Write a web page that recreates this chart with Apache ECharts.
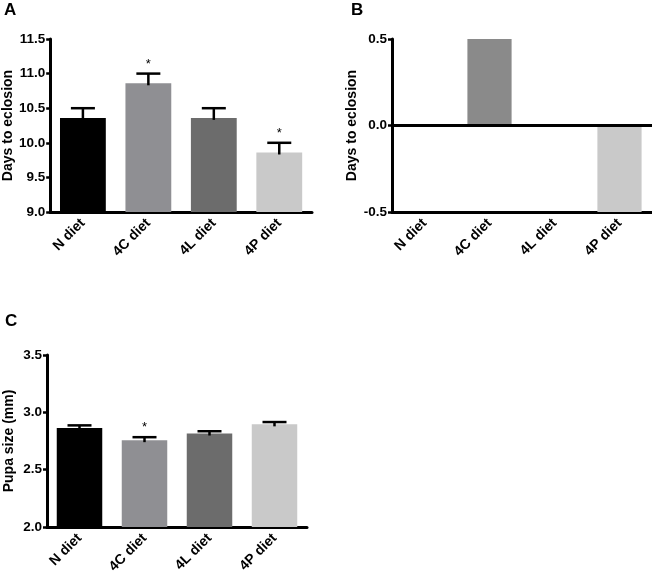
<!DOCTYPE html>
<html>
<head>
<meta charset="utf-8">
<script src="https://cdn.jsdelivr.net/npm/echarts@6/dist/echarts.min.js"></script>
<style>html,body{margin:0;padding:0;background:#fff;}#main{width:652px;height:576px;}</style>
</head>
<body>
<div id="main"></div>
<script>
const categories = ['N diet', '4C diet', '4L diet', '4P diet'];
const barColors = ['#000000', '#8f8f93', '#6c6c6c', '#c9c9c9'];
const colorsB = ['#000000', '#8a8a8a', '#6c6c6c', '#c9c9c9'];

// Panel A: days to eclosion
const meanA = [10.36, 10.86, 10.36, 9.86];
const upperA = [10.5, 11.0, 10.5, 10.0];
const starA = [0, 1, 0, 1];
const yTicksA = { min: 9.0, max: 11.5, interval: 0.5 };

// Panel B: difference in days to eclosion
const valuesB = [0, 0.5, 0, -0.5];
const yTicksB = { min: -0.5, max: 0.5, interval: 0.5 };

// Panel C: pupa size
const meanC = [2.864, 2.757, 2.815, 2.895];
const upperC = [2.886, 2.783, 2.835, 2.915];
const starC = [0, 1, 0, 0];
const yTicksC = { min: 2.0, max: 3.5, interval: 0.5 };

const FONT = '"Liberation Sans", Arial, sans-serif';

function xAxisCfg(gridIndex) {
  return {
    type: 'category', gridIndex, data: categories,
    axisLine: { onZero: false, lineStyle: { color: '#000', width: 3 } },
    axisTick: { alignWithLabel: true, length: 6, lineStyle: { color: '#000', width: 2.5 } },
    axisLabel: { rotate: 45, color: '#000', fontWeight: 'bold', fontSize: 14, fontFamily: FONT, margin: 9 }
  };
}
function yAxisCfg(gridIndex, t, name, nameGap) {
  return {
    type: 'value', gridIndex, min: t.min, max: t.max, interval: t.interval,
    name, nameLocation: 'middle', nameGap,
    nameTextStyle: { color: '#000', fontWeight: 'bold', fontSize: 14, fontFamily: FONT },
    splitLine: { show: false },
    axisLine: { show: true, lineStyle: { color: '#000', width: 3 } },
    axisTick: { show: true, length: 4, lineStyle: { color: '#000', width: 2.5 } },
    axisLabel: { color: '#000', fontWeight: 'bold', fontSize: 13.5, fontFamily: FONT, margin: 5,
      formatter: v => v.toFixed(1) }
  };
}
function errorSeries(idx, mean, upper, star) {
  return {
    type: 'custom', xAxisIndex: idx, yAxisIndex: idx, z: 5,
    data: mean.map((m, i) => [i, m, upper[i], star[i]]),
    renderItem: function (params, api) {
      const x = api.value(0);
      const lo = api.coord([x, api.value(1)]);
      const hi = api.coord([x, api.value(2)]);
      const hw = 12;
      const children = [
        { type: 'line', shape: { x1: lo[0], y1: lo[1] + 2, x2: hi[0], y2: hi[1] }, style: { stroke: '#000', lineWidth: 2.5 } },
        { type: 'line', shape: { x1: hi[0] - hw, y1: hi[1], x2: hi[0] + hw, y2: hi[1] }, style: { stroke: '#000', lineWidth: 2.5 } }
      ];
      if (api.value(3)) {
        children.push({ type: 'text', style: { text: '*', x: hi[0], y: hi[1] - 3, textAlign: 'center', textVerticalAlign: 'bottom', fill: '#000', font: '13px ' + FONT } });
      }
      return { type: 'group', children };
    }
  };
}

const chart = echarts.init(document.getElementById('main'));
chart.setOption({
  animation: false,
  backgroundColor: '#fff',
  graphic: [
    { type: 'text', left: 4, top: 2, style: { text: 'A', fill: '#000', font: 'bold 17px ' + FONT } },
    { type: 'text', left: 351, top: 2, style: { text: 'B', fill: '#000', font: 'bold 17px ' + FONT } },
    { type: 'text', left: 5, top: 313, style: { text: 'C', fill: '#000', font: 'bold 17px ' + FONT } }
  ],
  grid: [
    { left: 50, top: 39, width: 262, height: 173 },
    { left: 392, top: 39, width: 260, height: 173 },
    { left: 47, top: 355, width: 260, height: 175 }
  ],
  xAxis: [xAxisCfg(0), xAxisCfg(1), xAxisCfg(2)],
  yAxis: [
    yAxisCfg(0, yTicksA, 'Days to eclosion', 34),
    yAxisCfg(1, yTicksB, 'Days to eclosion', 33),
    yAxisCfg(2, yTicksC, 'Pupa size (mm)', 31)
  ],
  series: [
    { type: 'bar', xAxisIndex: 0, yAxisIndex: 0, barWidth: '70%',
      data: meanA.map((v, i) => ({ value: v, itemStyle: { color: barColors[i] } })) },
    errorSeries(0, meanA, upperA, starA),
    { type: 'bar', xAxisIndex: 1, yAxisIndex: 1, barWidth: '68%',
      data: valuesB.map((v, i) => ({ value: v, itemStyle: { color: colorsB[i] } })),
      markLine: { silent: true, symbol: 'none', label: { show: false },
        lineStyle: { color: '#000', width: 3, type: 'solid' }, data: [{ yAxis: 0 }] } },
    { type: 'bar', xAxisIndex: 2, yAxisIndex: 2, barWidth: '70%',
      data: meanC.map((v, i) => ({ value: v, itemStyle: { color: barColors[i] } })) },
    errorSeries(2, meanC, upperC, starC)
  ]
});
</script>
</body>
</html>
